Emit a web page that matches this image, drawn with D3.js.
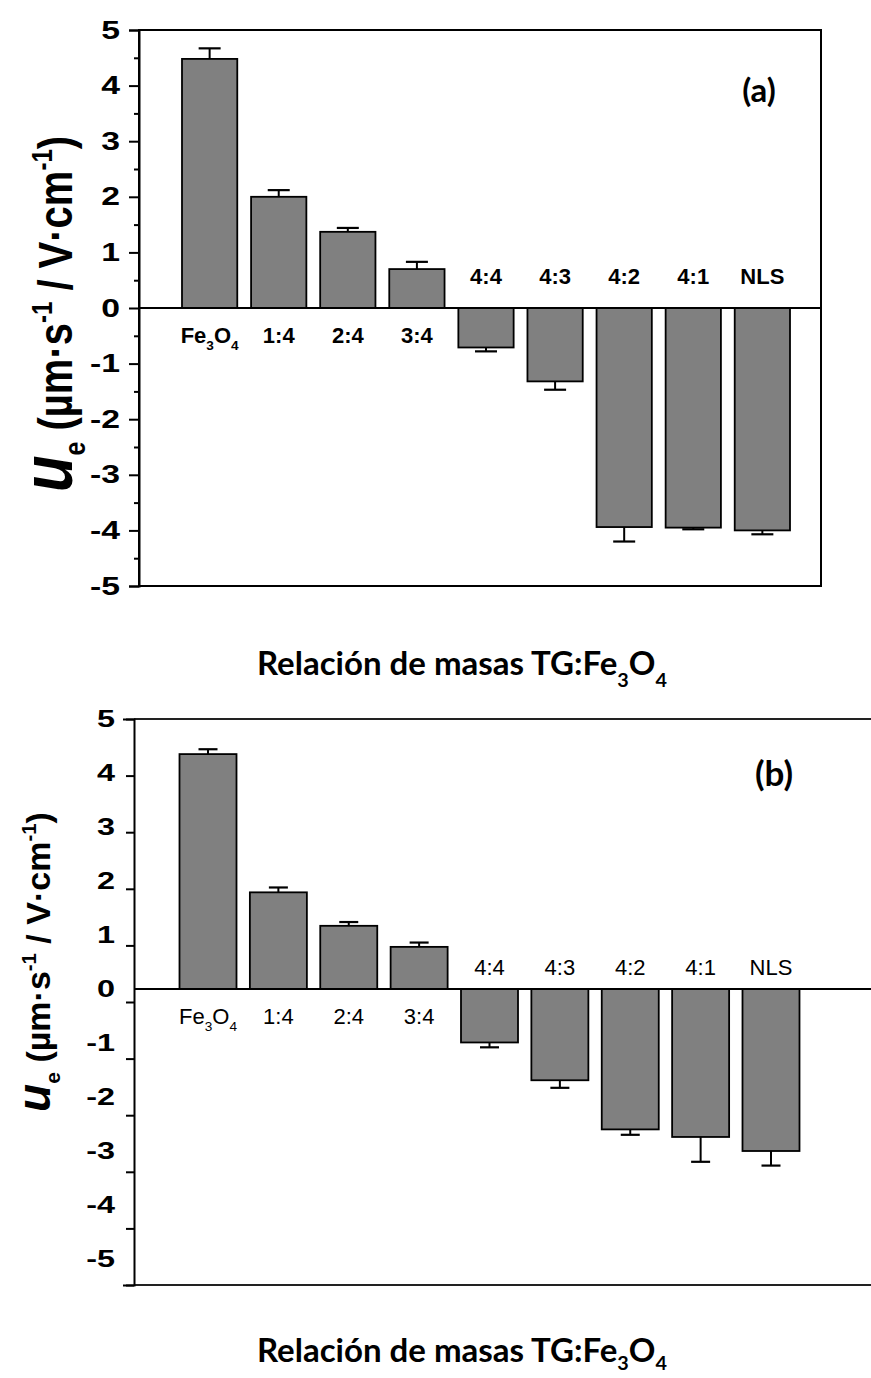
<!DOCTYPE html>
<html><head><meta charset="utf-8">
<script src="https://cdn.jsdelivr.net/npm/d3@7"></script>
<style>body{margin:0;background:#fff}</style>
</head><body>
<svg id="c" width="871" height="1378"></svg>
<script>
const categories = ["Fe3O4","1:4","2:4","3:4","4:4","4:3","4:2","4:1","NLS"];
const valuesA = [4.48, 2.00, 1.37, 0.70, -0.71, -1.32, -3.94, -3.95, -4.00];
const errorsA = [0.19, 0.12, 0.07, 0.13, 0.07, 0.15, 0.26, 0.03, 0.07];
const valuesB = [4.35, 1.79, 1.17, 0.78, -0.99, -1.69, -2.60, -2.74, -3.00];
const errorsB = [0.09, 0.09, 0.07, 0.08, 0.09, 0.14, 0.10, 0.46, 0.27];
const yTickValues = [-5,-4,-3,-2,-1,0,1,2,3,4,5];
const yMinorValues = [-4.5,-3.5,-2.5,-1.5,-0.5,0.5,1.5,2.5,3.5,4.5];
const xTitle = "Relación de masas TG:Fe";

const svg = d3.select("#c");
const ARIAL = "'Liberation Sans', Arial, sans-serif";
const CAL = "Lato, 'Open Sans', sans-serif";
const fmt = d => String(d);

function catLabel(g, name, x, y, size, weight) {
  const t = g.append("text").attr("x", x).attr("y", y).attr("text-anchor","middle")
    .attr("font-family", ARIAL).attr("font-size", size).attr("font-weight", weight).attr("fill","#000");
  if (name === "Fe3O4") {
    t.append("tspan").text("Fe");
    t.append("tspan").attr("font-size", size*0.62).attr("dy", size*0.3).text("3");
    t.append("tspan").attr("dy", -size*0.3).text("O");
    t.append("tspan").attr("font-size", size*0.62).attr("dy", size*0.3).text("4");
  } else t.text(name);
}

function yTitle(cx, cy, F, uF, sy) {
  const t = svg.append("text")
    .attr("transform", `translate(${cx},${cy}) rotate(-90) scale(1,${sy})`)
    .attr("text-anchor","middle").attr("font-family", ARIAL).attr("font-weight","bold")
    .attr("font-size", F).attr("fill","#000");
  t.append("tspan").attr("font-style","italic").attr("font-size", uF).text("u");
  t.append("tspan").attr("font-size", F*0.62).attr("dy", F*0.28).text("e");
  t.append("tspan").attr("dy", -F*0.28).text("\u00a0(\u00b5m\u00b7s");
  t.append("tspan").attr("font-size", F*0.6).attr("dy", -F*0.42).text("-1");
  t.append("tspan").attr("dy", F*0.42).text("\u00a0/\u00a0V\u00b7cm");
  t.append("tspan").attr("font-size", F*0.6).attr("dy", -F*0.42).text("-1");
  t.append("tspan").attr("dy", F*0.42).text(")");
}

function xTitleText(cx, y, F, sub) {
  const t = svg.append("text").attr("x", cx).attr("y", y).attr("text-anchor","middle")
    .attr("font-family", CAL).attr("font-weight","bold").attr("font-size", F).attr("fill","#000");
  t.append("tspan").text(xTitle);
  t.append("tspan").attr("font-size", F*0.6).attr("dy", sub).text("3");
  t.append("tspan").attr("dy", -sub).text("O");
  t.append("tspan").attr("font-size", F*0.6).attr("dy", sub).text("4");
}

function styleTickText(ax, offset, sx, size) {
  ax.selectAll(".tick text")
    .attr("x", -offset/sx).attr("transform", `scale(${sx},1)`)
    .attr("font-family", ARIAL).attr("font-weight","bold").attr("font-size", size).attr("fill","#000");
}

// ---------------- Panel A ----------------
(function(){
  const L=139, R=821, T=30, B=586;
  const y = d3.scaleLinear().domain([-5,5]).range([B,T]);
  const x = d3.scaleBand().domain(categories).range([182,790]).paddingInner(0.2);
  const g = svg.append("g");
  const data = categories.map((c,i)=>({c, v:valuesA[i], e:errorsA[i]}));
  data.forEach(d=>{
    const cxp = x(d.c)+x.bandwidth()/2;
    const end = d.v + Math.sign(d.v)*d.e;
    g.append("line").attr("x1",cxp).attr("x2",cxp).attr("y1",y(d.v)).attr("y2",y(end)).attr("stroke","#000").attr("stroke-width",2);
    g.append("line").attr("x1",cxp-11).attr("x2",cxp+11).attr("y1",y(end)).attr("y2",y(end)).attr("stroke","#000").attr("stroke-width",2.2);
  });
  g.selectAll("rect.bar").data(data).join("rect").attr("class","bar")
    .attr("x", d=>x(d.c)).attr("width", x.bandwidth())
    .attr("y", d=>y(Math.max(0,d.v))).attr("height", d=>Math.abs(y(d.v)-y(0)))
    .attr("fill","#808080").attr("stroke","#000").attr("stroke-width",1.8);
  g.append("rect").attr("x",L).attr("y",T).attr("width",R-L).attr("height",B-T)
    .attr("fill","none").attr("stroke","#000").attr("stroke-width",2);
  g.append("line").attr("x1",L).attr("x2",R).attr("y1",y(0)).attr("y2",y(0)).attr("stroke","#000").attr("stroke-width",2);
  const ax = g.append("g").attr("transform",`translate(${L},0)`)
    .call(d3.axisLeft(y).tickValues(yTickValues).tickSize(10).tickPadding(9).tickFormat(fmt));
  ax.select(".domain").attr("stroke-width",2);
  ax.selectAll(".tick line").attr("stroke-width",2);
  styleTickText(ax, 19, 1.35, 25);
  const mx = g.append("g").attr("transform",`translate(${L},0)`)
    .call(d3.axisLeft(y).tickValues(yMinorValues).tickSize(5).tickFormat(""));
  mx.select(".domain").remove();
  mx.selectAll(".tick line").attr("stroke-width",2);
  data.forEach(d=>{
    const cxp = x(d.c)+x.bandwidth()/2;
    catLabel(g, d.c, cxp, d.v>=0 ? y(0)+35 : y(0)-24, 22, "bold");
  });
  g.append("text").attr("x",759).attr("y",102).attr("text-anchor","middle")
    .attr("font-family",CAL).attr("font-weight","bold").attr("font-size",33).text("(a)");
  yTitle(72, 314, 40, 60, 1.2);
  xTitleText(462, 675, 33, 12);
})();

// ---------------- Panel B ----------------
(function(){
  const L=134, R=880, T=719, B=1285;
  const y = d3.scaleLinear().domain([-5,5]).range([1259,719]);
  const yt = d3.scaleLinear().domain([-5,5]).range([B,T]);
  const x = d3.scaleBand().domain(categories).range([179.5,799.5]).paddingInner(0.19);
  const g = svg.append("g");
  const data = categories.map((c,i)=>({c, v:valuesB[i], e:errorsB[i]}));
  data.forEach(d=>{
    const cxp = x(d.c)+x.bandwidth()/2;
    const end = d.v + Math.sign(d.v)*d.e;
    g.append("line").attr("x1",cxp).attr("x2",cxp).attr("y1",y(d.v)).attr("y2",y(end)).attr("stroke","#000").attr("stroke-width",2);
    g.append("line").attr("x1",cxp-9.5).attr("x2",cxp+9.5).attr("y1",y(end)).attr("y2",y(end)).attr("stroke","#000").attr("stroke-width",2.2);
  });
  g.selectAll("rect.bar").data(data).join("rect").attr("class","bar")
    .attr("x", d=>x(d.c)).attr("width", x.bandwidth())
    .attr("y", d=>y(Math.max(0,d.v))).attr("height", d=>Math.abs(y(d.v)-y(0)))
    .attr("fill","#808080").attr("stroke","#000").attr("stroke-width",1.8);
  g.append("line").attr("x1",L).attr("x2",R).attr("y1",T).attr("y2",T).attr("stroke","#222").attr("stroke-width",2);
  g.append("line").attr("x1",L).attr("x2",R).attr("y1",B).attr("y2",B).attr("stroke","#222").attr("stroke-width",2);
  g.append("line").attr("x1",L).attr("x2",R).attr("y1",y(0)).attr("y2",y(0)).attr("stroke","#000").attr("stroke-width",2);
  const ax = g.append("g").attr("transform",`translate(${L},0)`)
    .call(d3.axisLeft(yt).tickValues(yTickValues).tickSize(8).tickFormat(""));
  ax.select(".domain").attr("stroke-width",2);
  ax.selectAll(".tick line").attr("stroke-width",2);
  ax.selectAll(".tick").filter(d=>d===5||d===-5).select("line").attr("x2",-11);
  const lx = g.append("g").attr("transform",`translate(${L},0)`)
    .call(d3.axisLeft(y).tickValues(yTickValues).tickSize(0).tickFormat(fmt));
  lx.select(".domain").remove();
  styleTickText(lx, 19, 1.35, 24);
  data.forEach(d=>{
    const cxp = x(d.c)+x.bandwidth()/2;
    catLabel(g, d.c, cxp, d.v>=0 ? y(0)+35 : y(0)-14, 22, "normal");
  });
  g.append("text").attr("x",774).attr("y",786).attr("text-anchor","middle")
    .attr("font-family",CAL).attr("font-weight","bold").attr("font-size",35).text("(b)");
  yTitle(50, 962, 34, 46, 1.0);
  xTitleText(462, 1362, 33, 8);
})();
</script>
</body></html>
